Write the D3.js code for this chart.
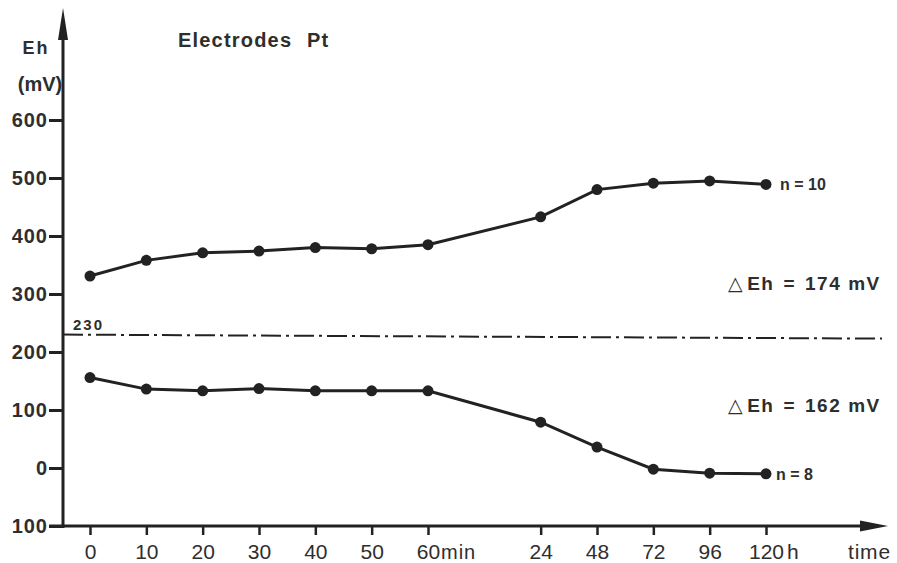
<!DOCTYPE html>
<html>
<head>
<meta charset="utf-8">
<script src="https://cdn.jsdelivr.net/npm/d3@7"></script>
<style>
  body { margin: 0; background: #fff; }
  text { font-family: "Liberation Sans", "DejaVu Sans", sans-serif; fill: #2e2e2e; }
</style>
</head>
<body>
<div id="chart"></div>
<script>
// time slots along x (blank slot marks the break between min and h)
const timeSlots = ["0", "10", "20", "30", "40", "50", "60", "gap", "24", "48", "72", "96", "120"];
const timeLabels = ["0", "10", "20", "30", "40", "50", "60", "24", "48", "72", "96", "120"];
const upperEh = [331, 358, 371, 374, 380, 378, 385, 433, 480, 491, 495, 489];
const lowerEh = [156, 136, 133, 137, 133, 133, 133, 79, 36, -2, -9, -10];
const yTicks = [-100, 0, 100, 200, 300, 400, 500, 600];
const refLevel = 230;
const refLabel = "230";

let width = 897, height = 563;

let svg = d3.select("#chart").append("svg")
    .attr("width", width)
    .attr("height", height);

// scales
let x = d3.scalePoint().domain(timeSlots).range([90, 766]);
let y = d3.scaleLinear().domain([-100, 600]).range([526, 120]);

let ink = "#222";

// y axis ticks + labels
let yAxis = svg.append("g")
    .attr("transform", "translate(63,0)")
    .call(d3.axisLeft(y).tickValues(yTicks).tickSize(14).tickPadding(1).tickFormat(d => Math.abs(d)));
yAxis.select(".domain").remove();
yAxis.selectAll("line").attr("stroke", ink).attr("stroke-width", 3);
yAxis.selectAll("text")
    .style("font-size", "20px")
    .style("font-weight", "bold")
    .style("letter-spacing", "1px")
    .attr("fill", "#333");

// x axis ticks + labels
let xKeys = timeSlots.filter(d => d !== "gap");
let xAxis = svg.append("g")
    .attr("transform", "translate(0,526)")
    .call(d3.axisBottom(x).tickValues(xKeys).tickSize(9));
xAxis.select(".domain").remove();
xAxis.selectAll("line").attr("stroke", ink).attr("stroke-width", 2.5);
xAxis.selectAll("text")
    .text((d, i) => timeLabels[i])
    .attr("y", 33)
    .attr("dy", null)
    .style("font-size", "21px")
    .attr("fill", "#333");

// unit suffixes after 60 and 120
svg.append("text").attr("x", x("60") + 13).attr("y", 559)
    .style("font-size", "20px").style("letter-spacing", "1px").text("min");
svg.append("text").attr("x", x("120") + 21).attr("y", 559).style("font-size", "21px").text("h");
svg.append("text").attr("x", 848).attr("y", 559)
    .style("font-size", "21px").style("letter-spacing", "0.8px").text("time");

// axis lines with arrow heads
svg.append("line").attr("x1", 63).attr("x2", 63).attr("y1", 528).attr("y2", 30)
    .attr("stroke", ink).attr("stroke-width", 3);
svg.append("path").attr("d", "M63,8 L58,40 L68,40 Z").attr("fill", ink);
svg.append("line").attr("x1", 49).attr("x2", 866).attr("y1", 526).attr("y2", 526)
    .attr("stroke", ink).attr("stroke-width", 3);
svg.append("path").attr("d", "M888,526 L860,520.5 L860,531.5 Z").attr("fill", ink);

// axis title
svg.append("text").attr("x", 36).attr("y", 54).attr("text-anchor", "middle")
    .style("font-size", "18px").style("font-weight", "bold").style("letter-spacing", "2px").text("Eh");
svg.append("text").attr("x", 40).attr("y", 91).attr("text-anchor", "middle")
    .style("font-size", "20px").style("font-weight", "bold").text("(mV)");
svg.append("text").attr("x", 178).attr("y", 47)
    .style("font-size", "20px").style("font-weight", "bold").style("letter-spacing", "1.2px")
    .text("Electrodes");
svg.append("text").attr("x", 307).attr("y", 47)
    .style("font-size", "20px").style("font-weight", "bold").style("letter-spacing", "1.2px")
    .text("Pt");

// reference dash-dot line
svg.append("line")
    .attr("x1", 63).attr("x2", 882)
    .attr("y1", y(refLevel)).attr("y2", y(refLevel) + 4)
    .attr("stroke", ink).attr("stroke-width", 2)
    .attr("stroke-dasharray", "20,5,3,5");
svg.append("text").attr("x", 73).attr("y", y(refLevel) - 5)
    .style("font-size", "15px").style("font-weight", "bold").style("letter-spacing", "2px")
    .text(refLabel);

// series
let line = d3.line()
    .x((d, i) => x(timeLabels[i]))
    .y(d => y(d));

[upperEh, lowerEh].forEach(series => {
    svg.append("path")
        .datum(series)
        .attr("d", line)
        .attr("fill", "none")
        .attr("stroke", ink)
        .attr("stroke-width", 3);
    svg.selectAll(null)
        .data(series)
        .enter()
        .append("circle")
        .attr("cx", (d, i) => x(timeLabels[i]))
        .attr("cy", d => y(d))
        .attr("r", 5.5)
        .attr("fill", ink);
});

// annotations
svg.append("text").attr("x", 780).attr("y", y(upperEh[11]) + 6)
    .style("font-size", "16px").style("font-weight", "bold").text("n = 10");
svg.append("text").attr("x", 776).attr("y", y(lowerEh[11]) + 6)
    .style("font-size", "16px").style("font-weight", "bold").text("n = 8");

function deltaLabel(yPos, value) {
    let t = svg.append("text").attr("x", 728).attr("y", yPos)
        .style("font-size", "19px").style("font-weight", "bold").style("letter-spacing", "1.5px");
    t.append("tspan").style("font-weight", "normal").text("\u25B3");
    t.append("tspan").attr("dx", 3).text("Eh");
    t.append("tspan").attr("dx", 9).text("=");
    t.append("tspan").attr("dx", 9).text(value);
    t.append("tspan").attr("dx", 7).text("mV");
}
deltaLabel(290, "174");
deltaLabel(412, "162");
</script>
</body>
</html>
